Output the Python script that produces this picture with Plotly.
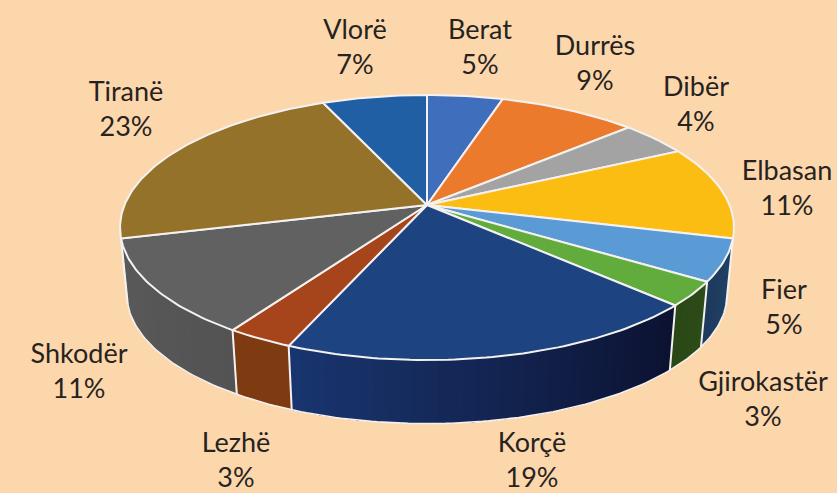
import math
import plotly.graph_objects as go

# ---- data (shares; labels as printed) ----
CITIES = ["Berat", "Durrës", "Dibër", "Elbasan", "Fier", "Gjirokastër",
          "Korçë", "Lezhë", "Shkodër", "Tiranë", "Vlorë"]
SHARES = [4.7, 8.6, 4.3, 11.4, 5.1, 3.0, 19.2, 3.0, 11.7, 22.5, 6.5]
PERCENT_LABELS = ["5%", "9%", "4%", "11%", "5%", "3%", "19%", "3%", "11%", "23%", "7%"]

# ---- styles ----
BG = "#FDD7AC"
TOP_COLORS = ["#3F6EBD", "#EC7A2D", "#A3A3A3", "#FCBD12", "#5A9BD6", "#62AC3E",
              "#1D4380", "#A6441B", "#616161", "#94722A", "#205FA3"]
WALL_START = ["#000000", "#000000", "#000000", "#000000", "#1F4268", "#2C4C18",
              "#0C1130", "#7E3A10", "#535353", "#000000", "#000000"]
WALL_END = ["#000000", "#000000", "#000000", "#000000", "#1E3A5C", "#2A4716",
            "#193670", "#7E3A10", "#5A5A5A", "#000000", "#000000"]
LABEL_X = [480, 595, 696, 787, 784, 763, 532, 236, 79, 126, 355]
LABEL_Y = [50, 66, 107, 191, 310, 402, 463, 463, 374, 112, 50]
FONT = "Lato, Open Sans, sans-serif"

# ---- projection of the tilted disc ----
CX, HUB_Y, A, B, K = 427, 205, 302.5, 128.7, 0.17
FLOOR_SCALE, FLOOR_DY = 0.978, 67


def project(deg, floor=False):
    t = math.radians(deg)
    xx, yy = math.sin(t), -math.cos(t)
    s = 1 / (1 - K * yy)
    if floor:
        return CX + FLOOR_SCALE * A * xx * s, HUB_Y + FLOOR_DY + FLOOR_SCALE * B * yy * s
    return CX + A * xx * s, HUB_Y + B * yy * s


def arc(a0, a1, floor=False, step=1.0):
    n = max(2, int(abs(a1 - a0) / step) + 1)
    return [project(a0 + (a1 - a0) * i / (n - 1), floor) for i in range(n)]


def mix(c0, c1, f):
    a = [int(c0[i:i + 2], 16) for i in (1, 3, 5)]
    b = [int(c1[i:i + 2], 16) for i in (1, 3, 5)]
    return "rgb(%d,%d,%d)" % tuple(round(p + (q - p) * f) for p, q in zip(a, b))


def poly(fig, pts, fill, line=None, width=0):
    fig.add_trace(go.Scatter(
        x=[p[0] for p in pts] + [pts[0][0]], y=[p[1] for p in pts] + [pts[0][1]],
        mode="lines", fill="toself", fillcolor=fill,
        line=dict(color=line or fill, width=width if line else 0),
        hoverinfo="skip", showlegend=False))


def stroke(fig, pts, width=2.0, color="#F4F1F0"):
    fig.add_trace(go.Scatter(
        x=[p[0] for p in pts], y=[p[1] for p in pts], mode="lines",
        line=dict(color=color, width=width), hoverinfo="skip", showlegend=False))


total = sum(SHARES)
edges = [0.0]
for v in SHARES:
    edges.append(edges[-1] + v / total * 360)

fig = go.Figure()

# outer wall, only the part facing the viewer; each band overlaps the next so no seam shows
WALL_FROM, WALL_TO = 104.0, 256.0
for i in range(len(SHARES)):
    lo, hi = max(edges[i], WALL_FROM), min(edges[i + 1], WALL_TO)
    if hi <= lo:
        continue
    n = max(3, int((hi - lo) / 2))
    for j in range(n):
        a0 = lo + (hi - lo) * j / n
        poly(fig, arc(a0, hi) + arc(hi, a0, True),
             mix(WALL_START[i], WALL_END[i], (j + 0.5) / n))
for i in range(1, len(edges) - 1):
    if WALL_FROM < edges[i] < WALL_TO:
        stroke(fig, [project(edges[i]), project(edges[i], True)], 2.0)
stroke(fig, arc(WALL_FROM, WALL_TO, True), 1.6)
stroke(fig, [project(WALL_TO), project(WALL_TO + 1, True)], 1.4)

# top face
for i in range(len(SHARES)):
    pts = [(CX, HUB_Y)] + arc(edges[i], edges[i + 1])
    poly(fig, pts, TOP_COLORS[i], "#F4F1F0", 2.0)

# labels
fig.add_trace(go.Scatter(
    x=LABEL_X, y=LABEL_Y, mode="text",
    text=[f"{c}<br>{p}" for c, p in zip(CITIES, PERCENT_LABELS)],
    textposition="middle center",
    textfont=dict(family=FONT, size=27, color="#26231F"),
    hoverinfo="skip", showlegend=False))

fig.update_layout(
    width=837, height=493, margin=dict(l=0, r=0, t=0, b=0),
    paper_bgcolor=BG, plot_bgcolor=BG, showlegend=False,
    xaxis=dict(range=[0, 837], visible=False, fixedrange=True),
    yaxis=dict(range=[493, 0], visible=False, fixedrange=True),
)
fig.write_html("out.html", config=dict(displayModeBar=False),
               post_script="document.body.style.margin='0';document.body.style.overflow='hidden';")
